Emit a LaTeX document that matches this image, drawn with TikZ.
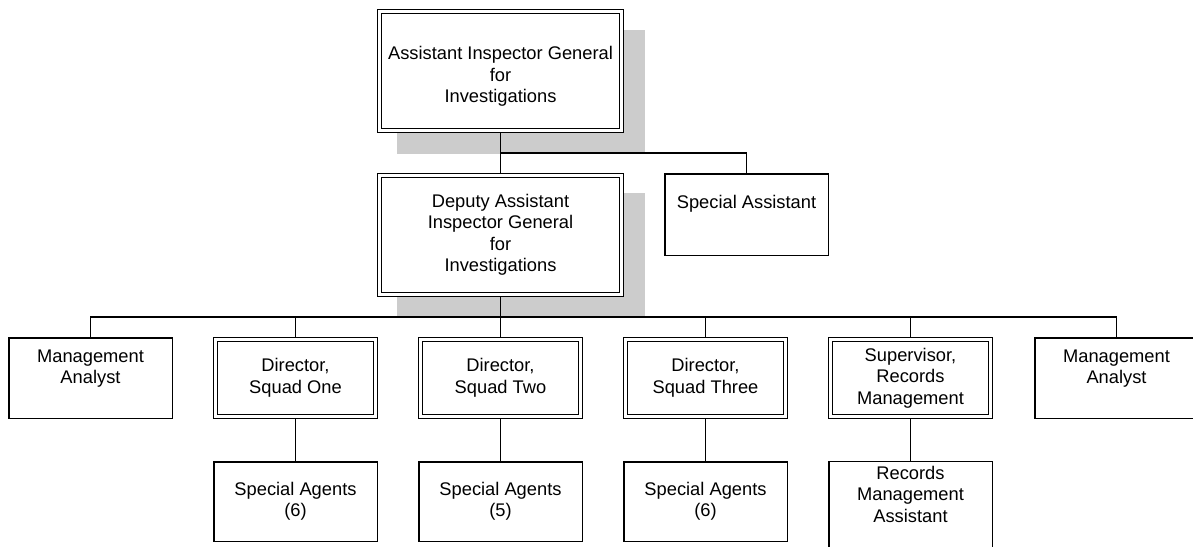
\documentclass[tikz,border=0pt]{standalone}
\usepackage{fontspec}
\setmainfont{Liberation Sans}
\pgfdeclarelayer{background}
\pgfsetlayers{background,main}
\definecolor{shadowgray}{RGB}{204,204,204}
\tikzset{
  conn/.style={line width=1.5pt},
  txt/.style={font=\fontsize{18.3}{21.5}\selectfont, align=center, inner sep=0pt},
  plainbox/.style={draw, line width=1.5pt, fill=white, inner sep=0pt, outer sep=0pt,
    font=\fontsize{18.3}{21.5}\selectfont, align=center},
  dblbox/.style={draw, line width=1.4pt, double=white, double distance=2.5pt, fill=white,
    inner sep=0pt, outer sep=2.65pt, font=\fontsize{18.3}{21.5}\selectfont, align=center},
  shade/.style={fill=shadowgray}
}
\begin{document}
\begin{tikzpicture}[x=1pt,y=-1pt]
\useasboundingbox (0,0) rectangle (1193,546);
\clip (0,0) rectangle (1193,546);
% shadows
\begin{pgfonlayer}{background}
  \fill[white] (0,0) rectangle (1193,546);
  \fill[shade] (397,30) rectangle (645,154);
  \fill[shade] (397,193) rectangle (645,317);
\end{pgfonlayer}
% top level
\node[dblbox, minimum width=241.7pt, minimum height=118.7pt] (aig) at (500.5,71) {};
\node[txt] (aigt) at (500.5,76.5) {Assistant Inspector General\\for\\Investigations};
\node[dblbox, minimum width=241.7pt, minimum height=118.7pt] (daig) at (500.5,235)
  {Deputy Assistant\\Inspector General\\for\\Investigations};
\node[plainbox, minimum width=163.5pt, minimum height=81.5pt] (spa) at (746.5,214.5) {};
\node[txt] (spat) at (746.5,204) {Special Assistant};
% second row
\node[plainbox, minimum width=163.5pt, minimum height=80.5pt] (mal) at (90.5,378) {};
\node[txt] (malt) at (90.5,368.5) {Management\\Analyst};
\node[dblbox, minimum width=159.7pt, minimum height=76.7pt] (d1) at (295.5,378) {Director,\\Squad One};
\node[dblbox, minimum width=159.7pt, minimum height=76.7pt] (d2) at (500.5,378) {Director,\\Squad Two};
\node[dblbox, minimum width=159.7pt, minimum height=76.7pt] (d3) at (705.5,378) {Director,\\Squad Three};
\node[dblbox, minimum width=159.7pt, minimum height=76.7pt] (sup) at (910.5,378) {Supervisor,\\Records\\Management};
\node[plainbox, minimum width=163.5pt, minimum height=80.5pt] (mar) at (1116.5,378) {};
\node[txt] (mart) at (1116.5,368.5) {Management\\Analyst};
% third row
\node[plainbox, minimum width=163.5pt, minimum height=79.5pt] (sa1) at (295.5,501.5) {Special Agents\\(6)};
\node[plainbox, minimum width=163.5pt, minimum height=79.5pt] (sa2) at (500.5,501.5) {Special Agents\\(5)};
\node[plainbox, minimum width=163.5pt, minimum height=79.5pt] (sa3) at (705.5,501.5) {Special Agents\\(6)};
\node[plainbox, minimum width=163.5pt, minimum height=99.5pt] (rma) at (910.5,511) {};
\node[txt] (rmat) at (910.5,494) {Records\\Management\\Assistant};
% connectors
\coordinate (j1) at (500.5,153);
\coordinate (j2) at (500.5,317);
\draw[conn] (aig.south) -- (daig.north);
\draw[conn] (j1) -| (spa.north);
\draw[conn] (daig.south) -- (j2);
\draw[conn] (mal.north) |- (j2) -| (mar.north);
\draw[conn] (d1.north) -- (d1.north |- j2);
\draw[conn] (d2.north) -- (d2.north |- j2);
\draw[conn] (d3.north) -- (d3.north |- j2);
\draw[conn] (sup.north) -- (sup.north |- j2);
\draw[conn] (d1.south) -- (sa1.north);
\draw[conn] (d2.south) -- (sa2.north);
\draw[conn] (d3.south) -- (sa3.north);
\draw[conn] (sup.south) -- (rma.north);
\end{tikzpicture}
\end{document}
